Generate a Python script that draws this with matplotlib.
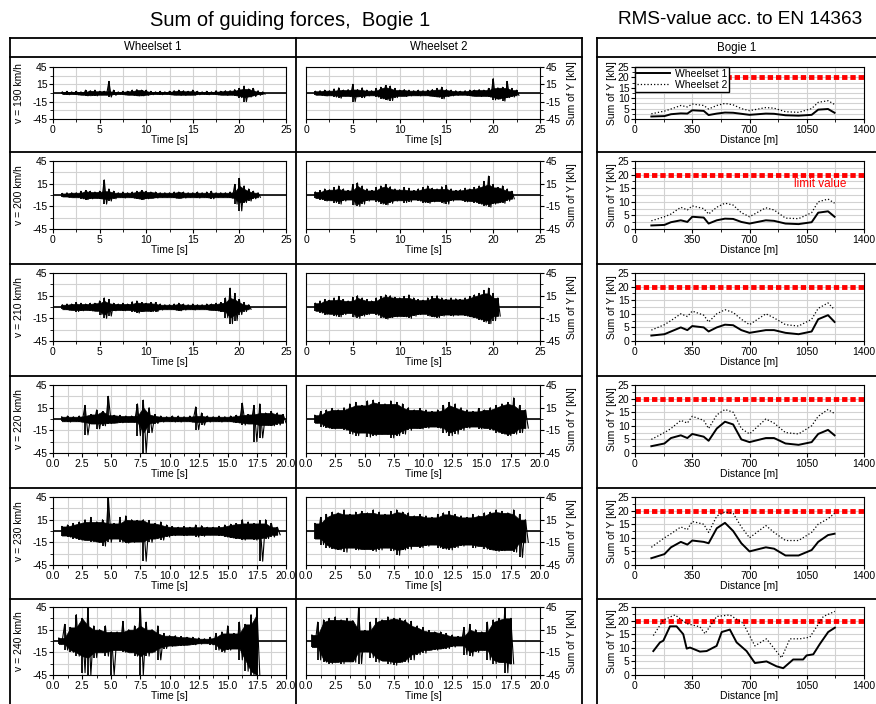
import numpy as np
import matplotlib.pyplot as plt
from matplotlib.lines import Line2D
from matplotlib.ticker import MultipleLocator, FixedLocator, FormatStrFormatter

plt.rcParams['font.family'] = ['Liberation Sans', 'DejaVu Sans']
plt.rcParams['axes.unicode_minus'] = False

W, H = 876, 704

speeds = [190, 200, 210, 220, 230, 240]
t_max = [25, 25, 25, 20, 20, 20]
step = 0.5  # spacing of the envelope samples [s]

# envelope of the guiding force signals (upper / lower peak per 0.5 s), wheelset 1
ws1_t0 = [1.0, 1.0, 1.0, 0.75, 0.75, 0.5]
ws1_hi = [
    [2, 3, 2, 3, 2, 5, 4, 5, 3, 3, 20, 5, 2, 3, 3, 5, 6, 5, 5, 3, 2, 3, 2, 3, 4, 5, 4, 3, 5, 3,
     2, 3, 2, 4, 3, 4, 4, 6, 8, 12, 7, 8, 4, 2],
    [2, 3, 3, 3, 5, 6, 5, 4, 5, 20, 8, 5, 3, 4, 3, 4, 5, 6, 5, 4, 4, 3, 3, 3, 4, 4, 4, 3, 3, 4,
     3, 4, 5, 3, 3, 3, 4, 14, 22, 12, 8, 5, 3],
    [3, 4, 4, 6, 5, 4, 5, 5, 8, 12, 10, 5, 4, 5, 4, 7, 8, 6, 5, 6, 6, 4, 3, 3, 4, 5, 4, 3, 4, 3,
     3, 4, 4, 5, 6, 12, 25, 18, 10, 6, 3],
    [3, 4, 3, 4, 18, 6, 12, 10, 30, 5, 5, 4, 4, 20, 25, 15, 6, 4, 3, 4, 4, 3, 4, 16, 8, 4, 3, 4, 3, 4,
     5, 21, 6, 18, 20, 8, 10, 8, 6],
    [6, 8, 10, 12, 15, 18, 12, 15, 45, 10, 18, 20, 15, 14, 15, 14, 10, 12, 8, 6, 5, 6, 5, 8, 7, 5, 5, 6, 8, 9,
     10, 15, 12, 10, 14, 15, 10, 5],
    [4, 22, 18, 35, 30, 45, 20, 15, 20, 12, 12, 26, 15, 20, 45, 25, 15, 20, 10, 7, 7, 6, 5, 5, 4, 3, 5, 10, 12, 20,
     10, 25, 22, 35, 45],
]
ws1_lo = [
    [-2, -3, -2, -3, -3, -5, -4, -5, -3, -3, -7, -4, -2, -3, -3, -4, -5, -5, -4, -3, -2, -3, -2, -3, -3, -4, -4, -3, -4, -3,
     -2, -3, -2, -3, -3, -4, -3, -5, -8, -15, -7, -6, -4, -2],
    [-2, -3, -3, -3, -5, -6, -5, -4, -5, -12, -8, -5, -3, -4, -3, -4, -5, -6, -5, -4, -4, -3, -3, -3, -4, -4, -4, -3, -3, -4,
     -3, -4, -5, -3, -3, -3, -4, -12, -21, -10, -8, -5, -3],
    [-3, -4, -4, -6, -5, -4, -5, -5, -10, -15, -12, -5, -4, -5, -4, -6, -8, -6, -5, -6, -6, -4, -3, -3, -4, -5, -4, -3, -4, -3,
     -3, -4, -4, -5, -6, -14, -22, -18, -10, -6, -3],
    [-3, -4, -3, -4, -21, -6, -13, -9, -6, -5, -5, -4, -4, -22, -45, -18, -6, -4, -3, -4, -4, -3, -4, -14, -8, -4, -3, -4, -3, -4,
     -5, -8, -6, -30, -25, -8, -9, -8, -5],
    [-6, -8, -10, -12, -12, -14, -15, -20, -15, -10, -15, -16, -15, -14, -40, -15, -10, -12, -8, -6, -5, -6, -5, -8, -7, -5, -5, -6, -8, -9,
     -10, -12, -10, -12, -40, -10, -8, -5],
    [-4, -12, -15, -20, -42, -45, -22, -15, -20, -45, -12, -15, -15, -20, -45, -20, -15, -25, -10, -7, -6, -6, -5, -5, -4, -3, -5, -12, -15, -12,
     -10, -25, -40, -45, -45],
]

# wheelset 2
ws2_t0 = [1.0, 1.0, 1.0, 0.75, 0.75, 0.5]
ws2_hi = [
    [3, 4, 5, 4, 7, 9, 5, 6, 15, 6, 9, 5, 4, 8, 10, 13, 12, 8, 5, 6, 5, 4, 5, 4, 5, 6, 8, 10, 6, 5,
     4, 3, 4, 5, 5, 6, 5, 8, 25, 9, 10, 20, 8, 5],
    [4, 6, 8, 7, 10, 12, 8, 6, 14, 16, 12, 8, 6, 10, 12, 14, 11, 8, 7, 10, 9, 6, 8, 10, 12, 9, 8, 11, 13, 8,
     6, 7, 9, 8, 10, 12, 18, 25, 14, 10, 12, 8, 5],
    [5, 8, 10, 9, 12, 14, 10, 8, 13, 15, 12, 10, 8, 12, 14, 16, 15, 13, 12, 14, 16, 12, 10, 9, 12, 14, 15, 12, 10, 12,
     11, 10, 12, 14, 16, 18, 22, 25, 18, 12],
    [5, 10, 12, 14, 12, 15, 20, 22, 18, 24, 25, 22, 20, 24, 22, 20, 15, 12, 14, 12, 10, 12, 18, 22, 20, 15, 12, 10, 14, 12,
     15, 18, 20, 22, 28, 18, 12],
    [10, 18, 22, 25, 24, 28, 22, 25, 26, 24, 28, 25, 22, 26, 28, 25, 24, 20, 22, 20, 18, 22, 24, 26, 22, 20, 18, 22, 20, 24,
     25, 28, 26, 24, 28, 22, 15],
    [8, 25, 28, 30, 32, 28, 30, 27, 45, 14, 25, 30, 28, 32, 30, 30, 28, 26, 20, 18, 14, 12, 12, 10, 8, 6, 18, 22, 15, 12,
     25, 28, 30, 45, 30],
]
ws2_lo = [
    [-3, -4, -5, -4, -7, -9, -5, -6, -15, -6, -8, -5, -4, -7, -10, -12, -13, -8, -5, -6, -5, -4, -5, -4, -5, -6, -7, -10, -6, -5,
     -4, -3, -4, -5, -5, -6, -5, -7, -12, -10, -14, -8, -7, -4],
    [-4, -6, -8, -7, -10, -12, -8, -6, -13, -15, -12, -8, -6, -9, -12, -13, -11, -8, -7, -10, -9, -6, -8, -10, -11, -9, -8, -11, -12, -8,
     -6, -7, -9, -8, -10, -12, -14, -16, -12, -10, -11, -8, -5],
    [-5, -8, -10, -9, -12, -13, -10, -8, -13, -15, -12, -10, -8, -11, -14, -16, -14, -13, -12, -13, -15, -12, -10, -9, -12, -13, -14, -12, -10, -12,
     -11, -10, -12, -13, -15, -17, -20, -22, -18, -12],
    [-5, -10, -12, -13, -12, -15, -20, -22, -18, -24, -22, -20, -20, -25, -22, -20, -15, -12, -13, -12, -10, -12, -18, -22, -20, -15, -12, -10, -13, -12,
     -15, -18, -20, -22, -20, -18, -12],
    [-10, -18, -22, -24, -25, -28, -22, -25, -24, -24, -27, -25, -22, -26, -32, -25, -24, -20, -22, -20, -18, -22, -24, -25, -22, -20, -18, -22, -20, -24,
     -25, -27, -26, -25, -28, -35, -15],
    [-8, -25, -28, -30, -28, -30, -27, -28, -30, -14, -22, -28, -26, -30, -32, -28, -28, -25, -18, -16, -12, -12, -10, -10, -8, -6, -18, -20, -15, -12,
     -25, -30, -28, -42, -30],
]

# RMS values acc. to EN 14363 [kN] over distance [m]
dist = [100, 180, 220, 280, 320, 350, 420, 450, 500, 550, 600, 650, 700, 800, 850, 920, 1000, 1080, 1120, 1180, 1220]
rms_ws1 = [
    [1.2, 1.4, 2.3, 2.7, 2.6, 4.2, 3.9, 1.9, 2.6, 3.1, 3.0, 2.5, 2.0, 2.6, 2.5, 1.8, 1.6, 2.0, 4.5, 4.8, 3.0],
    [1.3, 1.5, 2.5, 3.2, 2.6, 4.5, 4.2, 2.0, 3.2, 3.8, 3.7, 2.6, 2.0, 3.2, 3.0, 2.0, 1.8, 2.5, 6.0, 6.5, 4.5],
    [2.0, 2.5, 3.5, 5.0, 4.0, 5.5, 5.0, 3.5, 5.0, 6.0, 5.8, 4.0, 3.0, 4.0, 4.0, 3.0, 2.5, 3.5, 8.0, 9.5, 7.0],
    [2.5, 3.5, 5.5, 6.5, 5.5, 7.0, 6.0, 4.5, 9.0, 11.5, 10.5, 5.0, 4.0, 5.5, 5.5, 3.5, 3.0, 4.0, 7.0, 8.5, 6.5],
    [2.5, 4.0, 6.5, 8.5, 7.5, 9.0, 8.5, 8.0, 13.5, 15.5, 12.5, 8.0, 5.0, 6.5, 6.0, 3.5, 3.5, 5.5, 8.5, 11.0, 11.5],
]
rms_ws2 = [
    [2.5, 3.8, 4.8, 6.5, 5.8, 7.2, 6.5, 4.8, 6.5, 7.5, 6.8, 5.0, 4.0, 5.5, 5.2, 3.5, 3.2, 5.0, 8.0, 8.8, 7.0],
    [3.0, 4.5, 5.5, 8.0, 7.0, 8.5, 7.5, 5.5, 8.0, 9.5, 8.8, 6.0, 4.5, 7.8, 7.0, 4.0, 3.8, 6.0, 10.0, 11.0, 9.5],
    [4.0, 6.0, 7.5, 10.0, 9.0, 11.0, 9.5, 7.0, 10.0, 11.5, 10.5, 8.0, 6.0, 10.0, 8.5, 6.0, 5.5, 8.0, 12.0, 14.0, 11.5],
    [5.0, 7.5, 9.0, 12.0, 11.0, 13.5, 12.0, 9.0, 14.0, 16.0, 15.0, 9.0, 7.0, 12.5, 11.0, 7.5, 7.0, 10.0, 13.5, 16.0, 14.5],
    [6.5, 10.0, 11.5, 14.0, 13.0, 16.0, 15.0, 12.0, 18.0, 19.5, 19.0, 14.0, 10.0, 14.5, 12.0, 9.0, 9.0, 12.0, 15.0, 17.0, 19.0],
]
# 240 km/h read on its own distance points
dist6_ws1 = [112, 153, 173, 214, 254, 295, 316, 336, 397, 438, 499, 530, 580, 621, 682, 733, 804, 865, 906, 967,
             1028, 1049, 1090, 1130, 1181, 1222]
rms6_ws1 = [8.8, 12.0, 12.6, 17.9, 17.9, 15.0, 9.7, 10.1, 8.6, 8.8, 10.7, 15.8, 16.7, 12.0, 8.8, 4.4, 5.0, 3.2, 2.5, 5.7,
            5.7, 7.2, 7.6, 11.4, 15.8, 17.4]
dist6_ws2 = [112, 173, 244, 316, 397, 428, 499, 580, 662, 733, 804, 896, 947, 1008, 1069, 1151, 1222]
rms6_ws2 = [14.5, 20.2, 22.1, 18.9, 17.7, 15.2, 21.5, 22.1, 18.9, 10.7, 13.3, 6.3, 13.3, 13.3, 13.9, 21.5, 23.4]
rms_ws1.append(rms6_ws1)
rms_ws2.append(rms6_ws2)

limit = 20
dist_max = 1400

# layout in pixels
row_axes = [(67, 119), (161, 229), (273, 341), (385, 453), (497, 565), (607, 675)]
col_x = [(53, 286), (306, 540), (635, 864)]
row_lines = [38, 57, 152, 264, 376, 488, 599]

fig = plt.figure(figsize=(W / 100, H / 100), dpi=100)


def px_axes(x0, x1, top, bottom):
    return fig.add_axes([x0 / W, 1 - bottom / H, (x1 - x0) / W, (bottom - top) / H])


def fig_line(x0, y0, x1, y1):
    fig.add_artist(Line2D([x0 / W, x1 / W], [1 - y0 / H, 1 - y1 / H], transform=fig.transFigure,
                          color='black', lw=1.3))


# frames of the two tables
for y in row_lines:
    fig_line(10, y, 582, y)
    fig_line(597, y, 876, y)
for x in [10, 296, 582]:
    fig_line(x, 38, x, 704)
fig_line(597, 38, 597, 704)

fig.text(290 / W, 1 - 20 / H, 'Sum of guiding forces,  Bogie 1', ha='center', va='center', fontsize=14.5)
fig.text(740 / W, 1 - 20 / H, 'RMS-value acc. to EN 14363', ha='center', va='center', fontsize=13.7)
fig.text(153 / W, 1 - 47.5 / H, 'Wheelset 1', ha='center', va='center', fontsize=8.3)
fig.text(439 / W, 1 - 47.5 / H, 'Wheelset 2', ha='center', va='center', fontsize=8.3)
fig.text(737 / W, 1 - 47.5 / H, 'Bogie 1', ha='center', va='center', fontsize=8.3)

grid_kw = dict(color='#d2d2d2', lw=0.8)


def draw_signal(ax, t0, hi, lo, tmax, right):
    hi = np.asarray(hi, float)
    lo = np.asarray(lo, float)
    t = t0 + step * np.arange(len(hi))
    # solid core: what the neighbouring peaks share, single peaks stick out as spikes
    core_hi = np.minimum.reduce([np.r_[hi[0], hi[:-1]], hi, np.r_[hi[1:], hi[-1]]])
    core_lo = np.maximum.reduce([np.r_[lo[0], lo[:-1]], lo, np.r_[lo[1:], lo[-1]]])
    ax.fill_between(t, core_lo, core_hi, color='black', lw=0.5)
    ax.vlines(t, lo, hi, color='black', lw=1.3)
    x = np.column_stack([t, t + step / 2]).ravel()
    y = np.column_stack([hi, lo]).ravel()
    ax.plot(x, y, color='black', lw=0.8)
    ax.axhline(0, color='black', lw=1.2)
    ax.set_xlim(0, tmax)
    ax.set_ylim(-45, 45)
    major = 5 if tmax == 25 else 2.5
    ax.xaxis.set_major_locator(MultipleLocator(major))
    ax.xaxis.set_minor_locator(MultipleLocator(major / 2))
    ax.xaxis.set_major_formatter(FormatStrFormatter('%d' if tmax == 25 else '%.1f'))
    ax.set_yticks([-45, -15, 15, 45])
    ax.yaxis.set_minor_locator(FixedLocator([-30, 0, 30]))
    ax.grid(True, which='both', **grid_kw)
    ax.set_axisbelow(True)
    ax.tick_params(labelsize=7.5, length=3, pad=1)
    ax.tick_params(which='minor', length=2)
    if right:
        ax.yaxis.tick_right()
        ax.yaxis.set_label_position('right')


for i, v in enumerate(speeds):
    top, bottom = row_axes[i]
    h = bottom - top

    ax1 = px_axes(*col_x[0], top, bottom)
    draw_signal(ax1, ws1_t0[i], ws1_hi[i], ws1_lo[i], t_max[i], False)
    ax1.set_ylabel(f'v = {v} km/h', fontsize=7.5)
    ax1.yaxis.set_label_coords((24 - col_x[0][0]) / (col_x[0][1] - col_x[0][0]), 0.5)
    ax1.set_xlabel('Time [s]', fontsize=7.5)
    ax1.xaxis.set_label_coords(0.5, -16 / h)

    ax2 = px_axes(*col_x[1], top, bottom)
    draw_signal(ax2, ws2_t0[i], ws2_hi[i], ws2_lo[i], t_max[i], True)
    ax2.set_ylabel('Sum of Y [kN]', fontsize=7.5)
    ax2.yaxis.set_label_coords((567 - col_x[1][0]) / (col_x[1][1] - col_x[1][0]), 0.5)
    ax2.set_xlabel('Time [s]', fontsize=7.5)
    ax2.xaxis.set_label_coords(0.5, -16 / h)

    ax3 = px_axes(*col_x[2], top, bottom)
    if i < 5:
        d1, d2 = dist, dist
    else:
        d1, d2 = dist6_ws1, dist6_ws2
    ax3.plot([0, dist_max], [limit, limit], color='red', lw=3.5, ls=(0, (1.1, 0.6)))
    ax3.plot(d1, rms_ws1[i], color='black', lw=1.4, label='Wheelset 1')
    ax3.plot(d2, rms_ws2[i], color='black', lw=0.9, ls=':', label='Wheelset 2')
    ax3.set_xlim(0, dist_max)
    ax3.set_ylim(0, 25)
    ax3.xaxis.set_major_locator(MultipleLocator(350))
    ax3.xaxis.set_minor_locator(MultipleLocator(175))
    ax3.yaxis.set_major_locator(MultipleLocator(5))
    ax3.yaxis.set_minor_locator(MultipleLocator(2.5))
    ax3.grid(True, which='both', **grid_kw)
    ax3.set_axisbelow(True)
    ax3.tick_params(labelsize=7.5, length=3, pad=1)
    ax3.tick_params(which='minor', length=2)
    ax3.set_ylabel('Sum of Y [kN]', fontsize=7.5)
    ax3.yaxis.set_label_coords((617 - col_x[2][0]) / (col_x[2][1] - col_x[2][0]), 0.5)
    ax3.set_xlabel('Distance [m]', fontsize=7.5)
    ax3.xaxis.set_label_coords(0.5, -16 / h)
    if i == 0:
        leg = ax3.legend(loc='upper left', fontsize=7.5, frameon=True, fancybox=False, framealpha=1,
                         edgecolor='black', borderaxespad=0, handlelength=3.2, borderpad=0.2,
                         labelspacing=0.1, handletextpad=0.4)
        leg.get_frame().set_linewidth(1.0)
    if i == 1:
        ax3.text(1130, 16.5, 'limit value', color='red', fontsize=8.5, ha='center', va='center')

fig.savefig('out.png', dpi=100)
